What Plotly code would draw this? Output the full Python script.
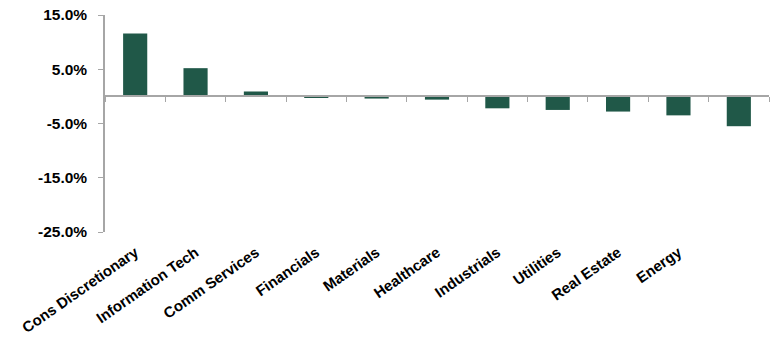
import plotly.graph_objects as go

# sector returns (%)
sectors = ["Cons Discretionary", "Information Tech", "Comm Services", "Financials",
           "Materials", "Healthcare", "Industrials", "Utilities", "Real Estate",
           "Energy", " "]
returns = [11.6, 5.2, 0.9, -0.3, -0.4, -0.6, -2.2, -2.5, -2.8, -3.5, -5.5]

y_ticks = [15, 5, -5, -15, -25]
y_labels = ["15.0%", "5.0%", "-5.0%", "-15.0%", "-25.0%"]

bar_color = "#205848"
axis_color = "#a6a6a6"
x_font = dict(family="Liberation Sans, Arial, sans-serif", size=15,
              color="black", weight="bold")
y_font = dict(family="Liberation Sans, Arial, sans-serif", size=15.5,
              color="black", weight="bold")

fig = go.Figure()
fig.add_trace(go.Bar(
    x=sectors,
    y=returns,
    marker=dict(color=bar_color, line=dict(width=0)),
    xaxis="x",
    yaxis="y",
))
# dummy trace so the bottom label axis gets drawn
fig.add_trace(go.Bar(x=sectors, y=[None] * len(sectors), xaxis="x2", yaxis="y",
                     showlegend=False, hoverinfo="skip"))

fig.update_layout(
    width=778,
    height=337,
    margin=dict(l=105, r=9, t=15, b=105, autoexpand=False),
    paper_bgcolor="white",
    plot_bgcolor="white",
    showlegend=False,
    bargap=0.6,
    barmode="overlay",
    xaxis=dict(
        type="category",
        anchor="free",
        position=25 / 40,
        showline=True,
        linecolor=axis_color,
        linewidth=1.5,
        ticks="outside",
        tickson="boundaries",
        ticklen=5,
        tickcolor=axis_color,
        showticklabels=False,
        showgrid=False,
        zeroline=False,
        automargin=False,
    ),
    xaxis2=dict(
        type="category",
        overlaying="x",
        matches="x",
        anchor="y",
        side="bottom",
        showline=False,
        ticks="outside",
        ticklen=5,
        tickcolor="rgba(0,0,0,0)",
        tickangle=-35,
        tickfont=x_font,
        showgrid=False,
        zeroline=False,
        automargin=False,
    ),
    yaxis=dict(
        range=[-25, 15],
        tickvals=y_ticks,
        ticktext=y_labels,
        tickfont=y_font,
        showline=True,
        linecolor=axis_color,
        linewidth=1.5,
        ticks="outside",
        ticklen=5,
        tickcolor=axis_color,
        ticklabelstandoff=8,
        showgrid=False,
        zeroline=False,
        automargin=False,
    ),
)

# drop the default page margin so the chart sits at the window's corner
fig.write_html("out.html", config={"displayModeBar": False},
               post_script="document.body.style.margin='0px';")
